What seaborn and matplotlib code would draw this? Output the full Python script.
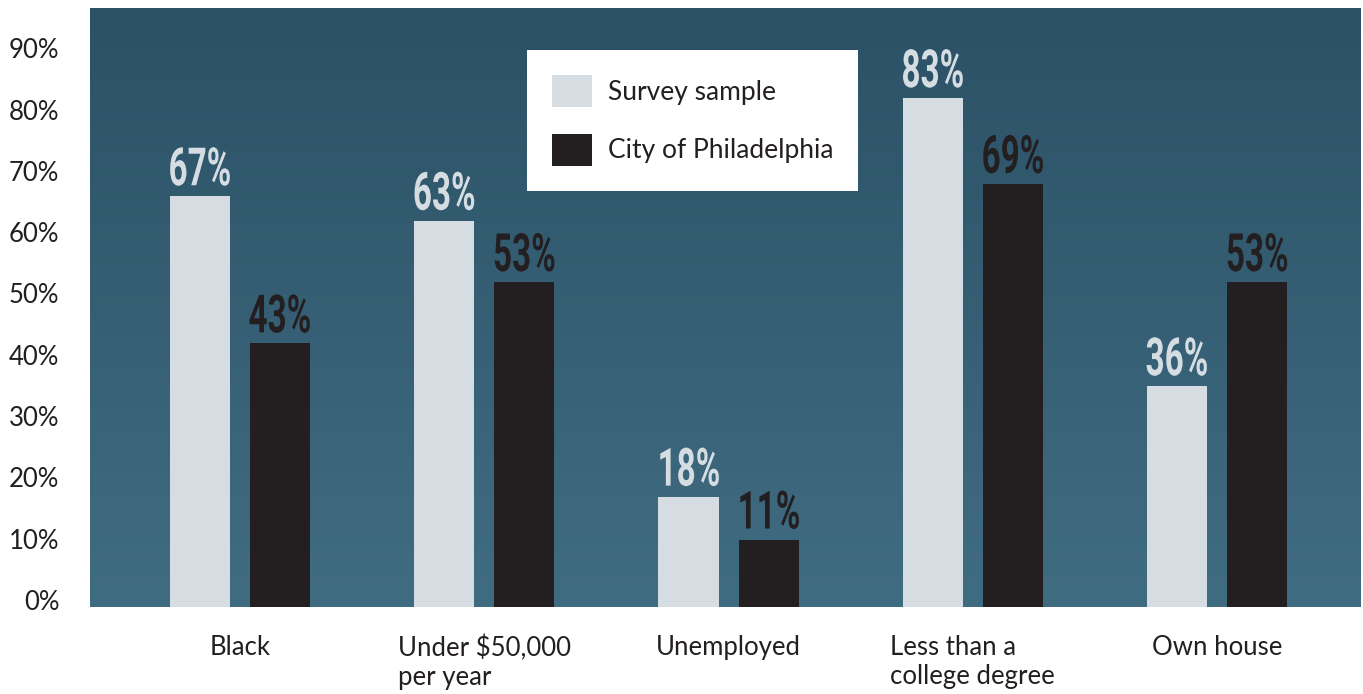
import numpy as np
import pandas as pd
import seaborn as sns
import matplotlib.pyplot as plt
from matplotlib.colors import LinearSegmentedColormap
from matplotlib.transforms import ScaledTranslation, Affine2D
from matplotlib.patheffects import AbstractPathEffect

categorias = ["Black", "Under $50,000\nper year", "Unemployed", "Less than a\ncollege degree", "Own house"]
survey = [67, 63, 18, 83, 36]
city = [43, 53, 11, 69, 53]
series = ["Survey sample", "City of Philadelphia"]
yticks = [0, 10, 20, 30, 40, 50, 60, 70, 80, 90]

df = pd.DataFrame({
    "categoria": categorias * 2,
    "valor": survey + city,
    "serie": [series[0]] * len(survey) + [series[1]] * len(city),
})

colores = {"Survey sample": "#d5dde3", "City of Philadelphia": "#231f20"}


class Estrecho(AbstractPathEffect):
    """comprime el texto en horizontal (no hay fuente condensada instalada)"""
    def __init__(self, sx=0.65):
        super().__init__()
        self.sx = sx

    def draw_path(self, renderer, gc, tpath, affine, rgbFace=None):
        bb = tpath.get_extents(affine)
        cx = (bb.x0 + bb.x1) / 2
        nuevo = affine + Affine2D().translate(-cx, 0).scale(self.sx, 1).translate(cx, 0)
        renderer.draw_path(gc, tpath, nuevo, rgbFace)


sns.set_style("white")
plt.rcParams["font.family"] = ["Lato", "DejaVu Sans"]

fig = plt.figure(figsize=(13.63, 6.94), dpi=100)
ax = fig.add_axes([0.066, 0.1254, 0.9318, 0.863])

# fondo azul con degradado
grad = np.linspace(0, 1, 256).reshape(-1, 1)
cmap_fondo = LinearSegmentedColormap.from_list("fondo", ["#406c82", "#2b5166"])
ax.imshow(grad, cmap=cmap_fondo, extent=[0, 1, 0, 1], transform=ax.transAxes,
          aspect="auto", origin="lower", zorder=0)

sns.barplot(data=df, x="categoria", y="valor", hue="serie", palette=colores,
            width=0.656, gap=0.25, saturation=1, linewidth=0, ax=ax, zorder=2)

# etiquetas de valor
for cont, nombre in zip(ax.containers, series):
    color = colores[nombre]
    etiquetas = ax.bar_label(cont, labels=[f"{v:.0f}%" for v in cont.datavalues], padding=0,
                             color=color, fontsize=38, fontweight="bold",
                             family=["Roboto", "DejaVu Sans"])
    for t in etiquetas:
        t.set_path_effects([Estrecho(0.63)])

ax.set_xlim(-0.614, 4.585)
ax.set_ylim(0, 97.7)
ax.set_yticks(yticks)
ax.set_yticklabels([f"{t}%" for t in yticks], fontsize=18.5, color="#231f20")
ax.tick_params(axis="y", length=0, pad=22)
ax.tick_params(axis="x", length=0, pad=20)
for lab in ax.get_xticklabels():
    lab.set_fontsize(18.5)
    lab.set_color("#231f20")
    lab.set_multialignment("left")
    lab.set_verticalalignment("top")
desplaza = ScaledTranslation(0, 7 / 100, fig.dpi_scale_trans)
for lab in ax.get_yticklabels():
    lab.set_transform(lab.get_transform() + desplaza)

ax.set_xlabel("")
ax.set_ylabel("")
sns.despine(ax=ax, left=True, bottom=True, top=True, right=True)

leg = ax.legend(loc="upper left", bbox_to_anchor=(0.344, 0.93), fontsize=19,
                frameon=True, fancybox=False, framealpha=1, edgecolor="white",
                handlelength=1.5, handleheight=1.5, labelspacing=1.0,
                handletextpad=0.62, borderpad=0.95, borderaxespad=0)
leg.get_frame().set_linewidth(0)
for t in leg.get_texts():
    t.set_color("#231f20")

fig.savefig("out.png", dpi=100)
